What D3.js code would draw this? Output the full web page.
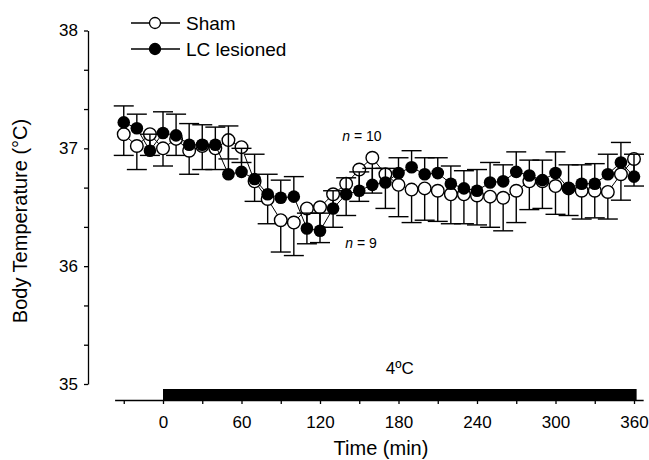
<!DOCTYPE html>
<html>
<head>
<meta charset="utf-8">
<script src="https://cdn.jsdelivr.net/npm/d3@7"></script>
<style>
  html, body { margin: 0; padding: 0; background: #fff; }
  svg { display: block; }
  text { font-family: "Liberation Sans", Arial, sans-serif; fill: #000; }
</style>
</head>
<body>
<svg id="chart" width="649" height="460"></svg>
<script>
// ---- data ----
const times = [-30,-20,-10,0,10,20,30,40,50,60,70,80,90,100,110,120,130,140,150,160,170,180,190,200,210,220,230,240,250,260,270,280,290,300,310,320,330,340,350,360];

const shamMean = [37.12,37.02,37.12,37.00,37.08,36.98,37.02,37.00,37.07,37.01,36.72,36.57,36.39,36.37,36.49,36.50,36.61,36.70,36.82,36.92,36.78,36.69,36.65,36.66,36.64,36.61,36.61,36.60,36.59,36.58,36.64,36.72,36.72,36.68,36.66,36.64,36.64,36.63,36.78,36.91];
const shamLow  = [36.94,36.82,36.94,36.85,36.94,36.78,36.82,36.82,36.91,36.88,36.55,36.36,36.12,36.09,36.19,36.20,36.33,36.43,36.55,36.62,36.49,36.42,36.37,36.39,36.38,36.36,36.36,36.35,36.33,36.30,36.37,36.48,36.49,36.44,36.43,36.40,36.41,36.40,36.56,36.68];

const lcMean = [37.22,37.17,36.98,37.13,37.11,37.03,37.03,37.03,36.78,36.80,36.74,36.61,36.58,36.59,36.32,36.30,36.49,36.61,36.64,36.69,36.71,36.79,36.84,36.78,36.79,36.70,36.66,36.64,36.71,36.72,36.80,36.77,36.73,36.79,36.66,36.70,36.70,36.78,36.88,36.76];
const lcHigh = [37.36,37.29,37.12,37.31,37.29,37.21,37.20,37.18,37.19,37.00,36.95,36.78,36.73,36.76,36.45,36.45,36.64,36.75,36.80,36.83,36.83,36.92,36.98,36.92,36.92,36.85,36.81,36.82,36.88,36.86,36.97,36.90,36.90,36.97,36.86,36.86,36.87,36.95,37.05,36.95];

const xTickLabels = [0,60,120,180,240,300,360];
const xMinorTicks = [-30,30,90,150,210,270,330];
const yTickLabels = [35,36,37,38];
const coldPeriod = [0, 362];
const seriesNames = ["Sham", "LC lesioned"];

// ---- layout ----
const svg = d3.select("#chart");
const x = d3.scaleLinear().domain([0, 360]).range([163, 634]);
const y = d3.scaleLinear().domain([35, 38]).range([384, 30.5]);
const font = "Liberation Sans, Arial, sans-serif";

// Y axis
const yMinor = d3.range(0, 10).map(i => 35 + i / 3);
const yAxis = d3.axisLeft(y)
  .tickValues(yMinor)
  .tickSize(4)
  .tickSizeOuter(0)
  .tickFormat(d => {
    const r = Math.round(d);
    return (Math.abs(d - r) < 1e-6 && yTickLabels.includes(r)) ? String(r) : "";
  });
const gy = svg.append("g").attr("transform", "translate(88,0)").call(yAxis);
gy.select(".domain").attr("stroke-width", 1.3);
gy.selectAll(".tick line").attr("stroke-width", 1.3);
gy.selectAll(".tick text").attr("font-size", 17).attr("font-family", font).attr("x", -10);

// X axis (line extends beyond data range)
const xAxisScale = x.copy().domain([-37, 367]).range([x(-37), x(367)]);
const xAxis = d3.axisBottom(xAxisScale)
  .tickValues(xMinorTicks.concat(xTickLabels).sort((a, b) => a - b))
  .tickSize(4)
  .tickSizeOuter(0)
  .tickFormat(d => xTickLabels.includes(d) ? String(d) : "");
const gx = svg.append("g").attr("transform", "translate(0,400)").call(xAxis);
gx.select(".domain").attr("stroke-width", 1.3);
gx.selectAll(".tick line").attr("stroke-width", 1.3);
gx.selectAll(".tick text").attr("font-size", 17).attr("font-family", font).attr("dy", "1.25em");

// cold bar
svg.append("rect")
  .attr("x", x(coldPeriod[0]))
  .attr("y", 389)
  .attr("width", x(coldPeriod[1]) - x(coldPeriod[0]))
  .attr("height", 11)
  .attr("fill", "#000");
svg.append("text").attr("x", (x(coldPeriod[0]) + x(coldPeriod[1])) / 2).attr("y", 374)
  .attr("text-anchor", "middle").attr("font-size", 17).text("4ºC");

// axis titles
svg.append("text").attr("x", 381).attr("y", 455).attr("text-anchor", "middle")
  .attr("font-size", 20).text("Time (min)");
svg.append("text").attr("transform", "translate(27,221) rotate(-90)")
  .attr("text-anchor", "middle").attr("font-size", 20).text("Body Temperature (°C)");

// ---- series ----
const sham = times.map((t, i) => ({ t, v: shamMean[i], e: shamLow[i] }));
const lc = times.map((t, i) => ({ t, v: lcMean[i], e: lcHigh[i] }));
const line = d3.line().x(d => x(d.t)).y(d => y(d.v));
const cap = 10, R = 6.3;

function drawSeries(data, filled) {
  const g = svg.append("g");
  g.append("path").datum(data).attr("d", line)
    .attr("fill", "none").attr("stroke", "#000").attr("stroke-width", 1);
  const eb = g.append("g").selectAll("g").data(data).join("g");
  eb.append("line")
    .attr("x1", d => x(d.t)).attr("x2", d => x(d.t))
    .attr("y1", d => y(d.v)).attr("y2", d => y(d.e))
    .attr("stroke", "#000").attr("stroke-width", 1.4);
  eb.append("line")
    .attr("x1", d => x(d.t) - cap).attr("x2", d => x(d.t) + cap)
    .attr("y1", d => y(d.e)).attr("y2", d => y(d.e))
    .attr("stroke", "#000").attr("stroke-width", 1.4);
  g.append("g").selectAll("circle").data(data).join("circle")
    .attr("cx", d => x(d.t)).attr("cy", d => y(d.v)).attr("r", R)
    .attr("fill", filled ? "#000" : "#fff")
    .attr("stroke", "#000").attr("stroke-width", filled ? 0 : 1.4);
}
drawSeries(sham, false);
drawSeries(lc, true);

// n labels
const nl1 = svg.append("text").attr("x", 362).attr("y", 141).attr("text-anchor", "middle").attr("font-size", 14);
nl1.append("tspan").attr("font-style", "italic").text("n");
nl1.append("tspan").text(" = 10");
const nl2 = svg.append("text").attr("x", 361).attr("y", 248).attr("text-anchor", "middle").attr("font-size", 14);
nl2.append("tspan").attr("font-style", "italic").text("n");
nl2.append("tspan").text(" = 9");

// legend
const leg = svg.append("g");
seriesNames.forEach((name, i) => {
  const cy = 23 + i * 26;
  leg.append("line").attr("x1", 131).attr("x2", 180).attr("y1", cy).attr("y2", cy)
    .attr("stroke", "#000").attr("stroke-width", 1.3);
  leg.append("circle").attr("cx", 155).attr("cy", cy).attr("r", 5.5)
    .attr("fill", i === 0 ? "#fff" : "#000").attr("stroke", "#000").attr("stroke-width", 1.3);
  leg.append("text").attr("x", 186).attr("y", cy + 6.5).attr("font-size", 19).text(name);
});
</script>
</body>
</html>
